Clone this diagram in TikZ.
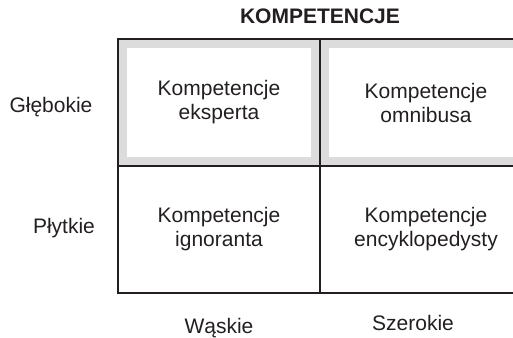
\documentclass[tikz,border=0pt]{standalone}
\usepackage{fontspec}
\setmainfont{Liberation Sans}
\usepackage{tikz}
\usetikzlibrary{arrows,shapes}
\pgfdeclarelayer{background}
\pgfsetlayers{background,main}
\definecolor{linia}{HTML}{231F20}
\definecolor{ramka}{HTML}{DCDCDC}
\tikzstyle{cell}=[draw=linia,line width=1.2pt,minimum height=127pt,inner sep=0pt,
  text=linia,align=center,font=\fontsize{21}{24}\selectfont]
\tikzstyle{band}=[draw=ramka,line width=10pt]
\tikzstyle{axis}=[text=linia,anchor=base,inner sep=0pt,font=\fontsize{21}{24}\selectfont]
\tikzstyle{title}=[axis,font=\fontsize{21}{24}\selectfont\bfseries]

\begin{document}
\begin{tikzpicture}[x=1pt,y=-1pt]
    \useasboundingbox (0,0) rectangle (513,337);
    \clip (0,0) rectangle (513,337);
    % Title above the grid
    \node[title] (tytul) at (320,24) {KOMPETENCJE};
    % The four cells of the grid
    \foreach \pos/\szer/\name/\txt in {{(219,102.5)/202/eksp/Kompetencje\\eksperta},
        {(426,102.5)/212/omni/Kompetencje\\omnibusa},
        {(219,229.5)/202/igno/Kompetencje\\ignoranta},
        {(426,229.5)/212/ency/Kompetencje\\encyklopedysty}}
        \node[cell,minimum width=\szer pt] (\name) at \pos {\txt};
    % Grey frame inside the upper cells
    \begin{pgfonlayer}{background}
    \foreach \name in {eksp, omni}
        \draw[band] ([xshift=5pt,yshift=-5pt]\name.north west) rectangle
            ([xshift=-5pt,yshift=5pt]\name.south east);
    \end{pgfonlayer}
    % Labels of rows and columns
    \node[axis] (gleb) at (51,112) {Głębokie};
    \node[axis] (plyt) at (64,233) {Płytkie};
    \node[axis] (wask) at (219,333) {Wąskie};
    \node[axis] (szer) at (413,330) {Szerokie};
\end{tikzpicture}
\end{document}
